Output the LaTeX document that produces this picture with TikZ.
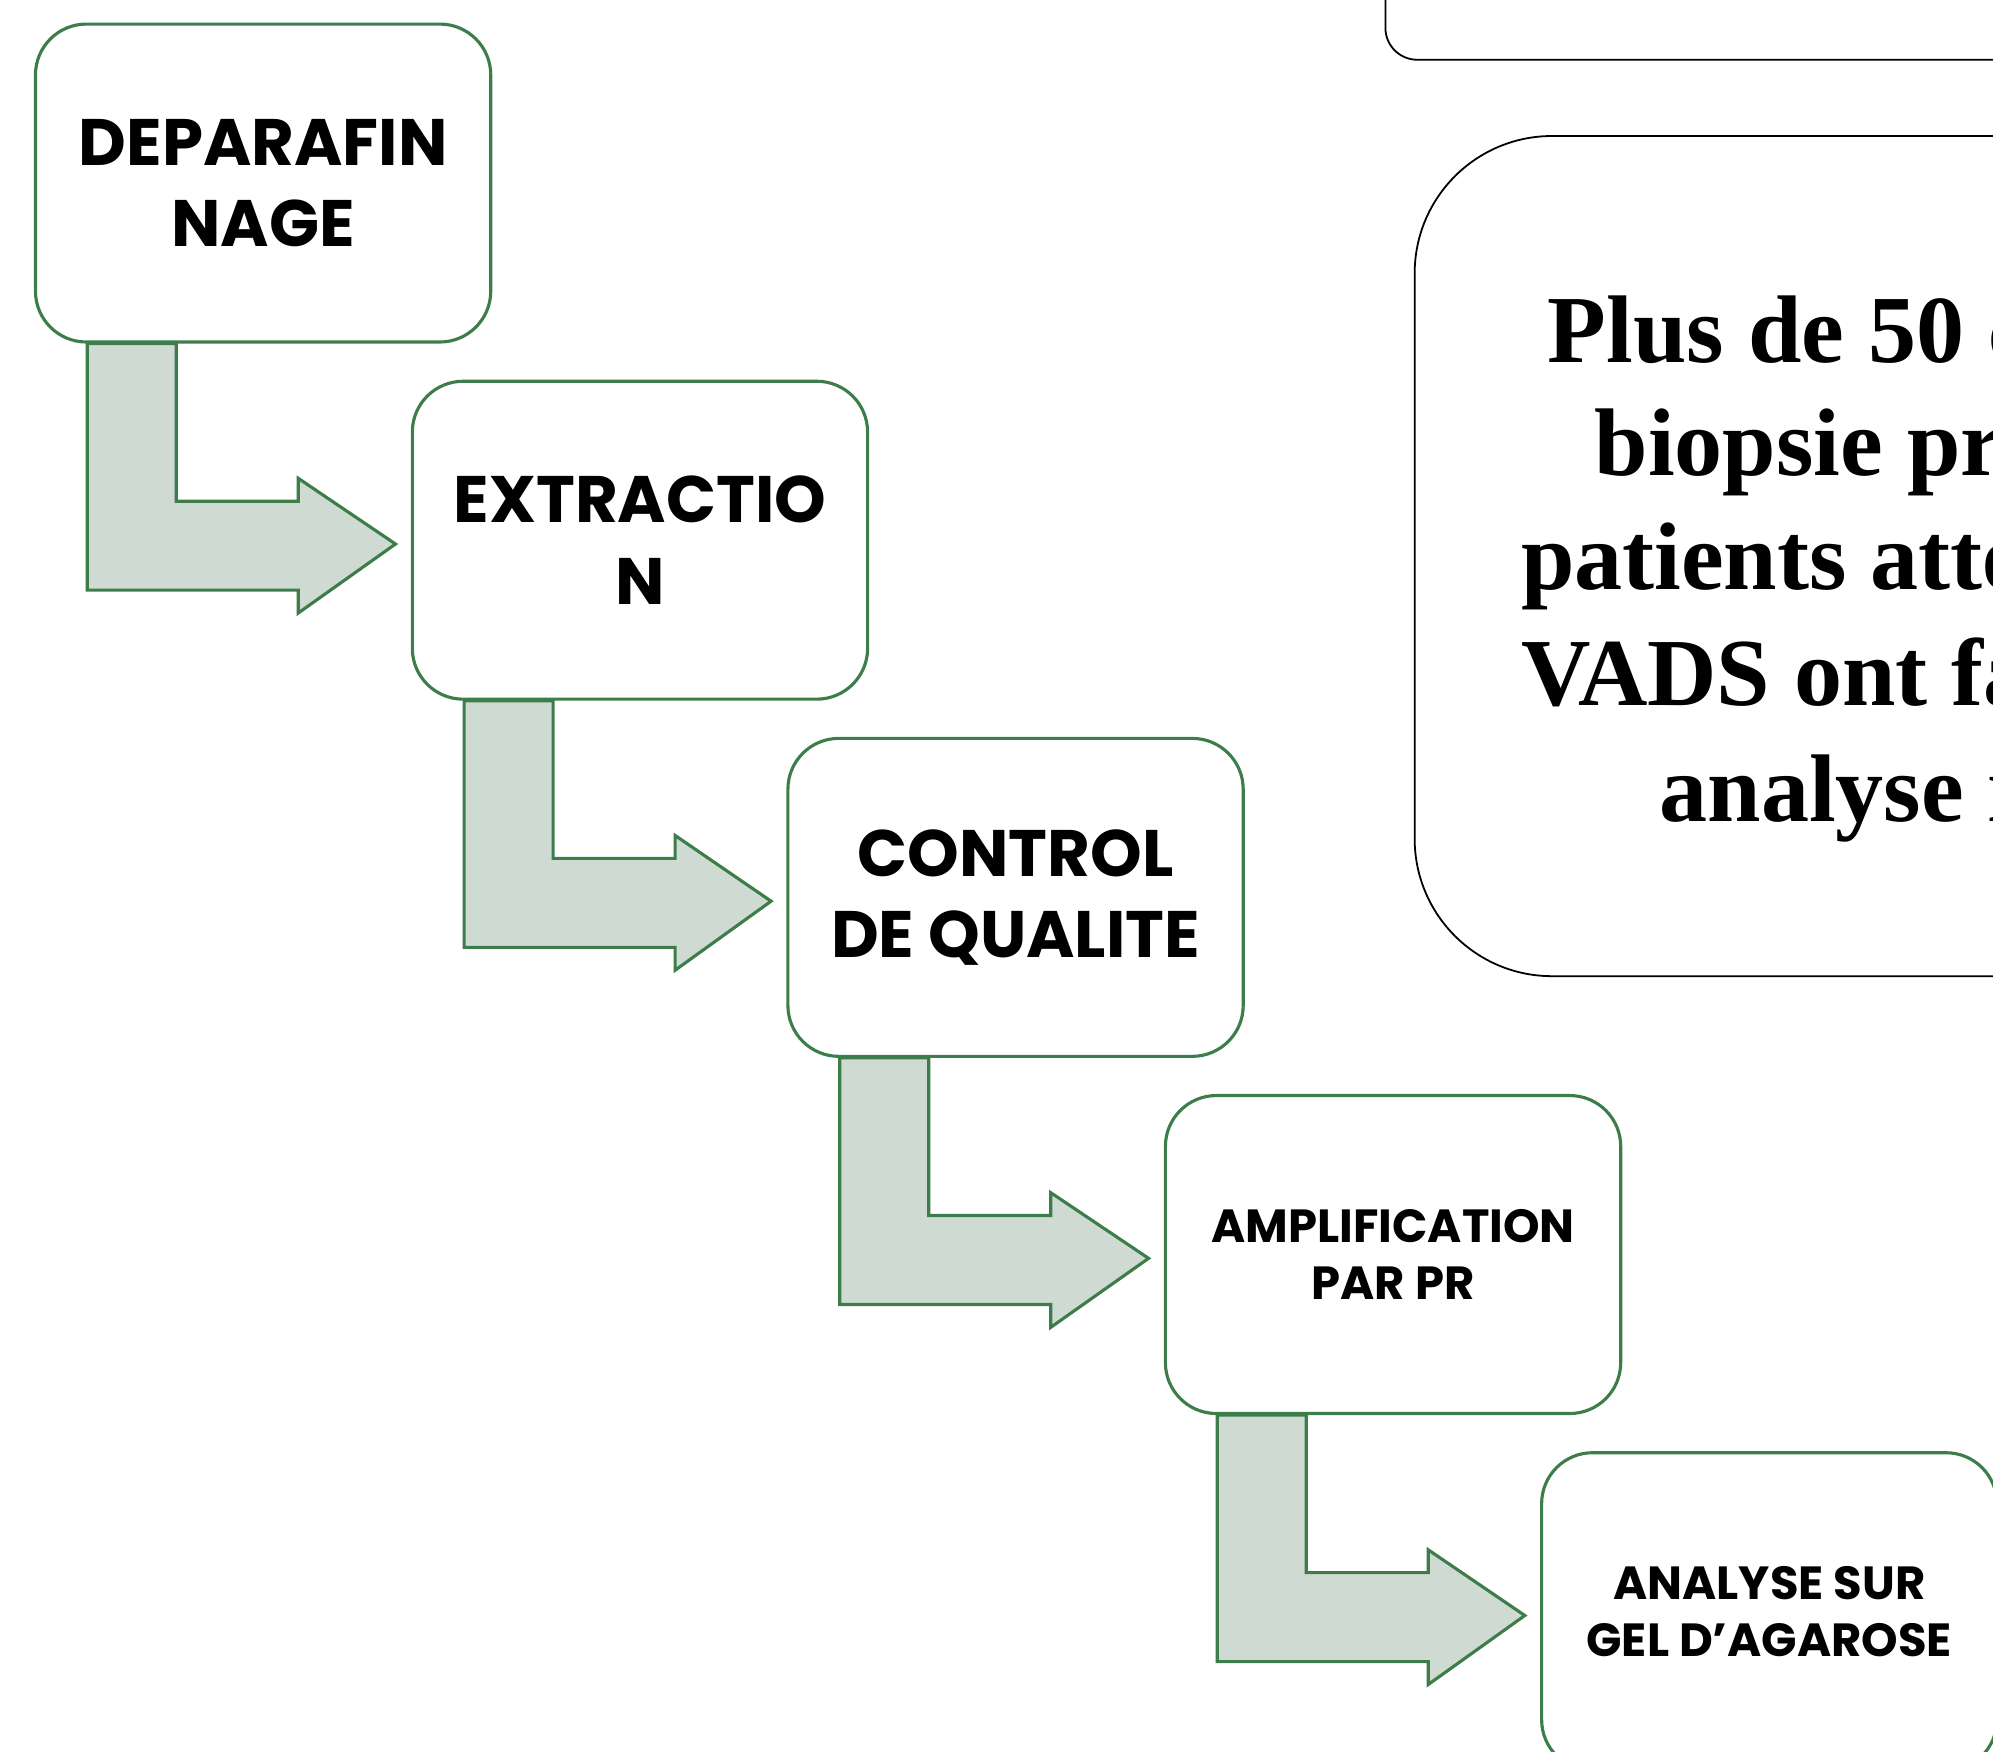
\documentclass[tikz,border=0pt]{standalone}
\usepackage{fontspec}
\setmainfont{Liberation Serif}
\newfontfamily\stepfont{Poppins}
\usepackage{xcolor}
\usetikzlibrary{calc}

\definecolor{stepgreen}{RGB}{60,125,74}
\definecolor{arrowfill}{RGB}{207,219,210}

\tikzset{
  stepbox/.style={draw=stepgreen, line width=0.7pt, fill=white, rounded corners=0.4cm,
    minimum width=3.58cm, minimum height=2.5cm, inner sep=0pt, align=center,
    font=\stepfont\bfseries\fontsize{14.7}{18.2}\selectfont},
  smallstep/.style={stepbox, font=\stepfont\bfseries\fontsize{10.4}{12.8}\selectfont},
  flowarrow/.style={draw=stepgreen, fill=arrowfill, line width=0.7pt, line join=miter},
  notebox/.style={draw=black, line width=0.4pt},
  noteline/.style={anchor=base west, inner sep=0pt, font=\bfseries\fontsize{21.5}{25.6}\selectfont}
}

\begin{document}
\begin{tikzpicture}[x=0.01cm, y=-0.01cm]

  % Page frame (shown picture is a crop)
  \useasboundingbox (0,0) rectangle (1568,1378);
  \clip (0,0) rectangle (1568,1378);

  % Steps of the protocol
  \node[stepbox]   (deparaf) at (207,144)   {DEPARAFIN\\NAGE};
  \node[stepbox]   (extract) at (503.5,425) {EXTRACTIO\\N};
  \node[stepbox]   (qualite) at (799,706)   {CONTROL\\DE QUALITE};
  \node[smallstep] (amplif)  at (1096,987)  {AMPLIFICATION\\PAR PR};
  \node[smallstep] (agarose) at (1392,1268) {ANALYSE SUR\\GEL D’AGAROSE};

  % Bent arrows between the steps
  \foreach \a/\b in {deparaf/extract, extract/qualite, qualite/amplif, amplif/agarose} {
    \begin{scope}[shift={(\a.south west)}]
      \draw[flowarrow] (42,0) -- (42,194) -- (208,194) -- (208,212)
        -- ($(\b.west)+(-12,3)$) -- (208,106) -- (208,124) -- (112,124) -- (112,0) -- cycle;
    \end{scope}
  }

  % Boxes on the right (cut by the frame)
  \draw[notebox, rounded corners=0.25cm] (1090,-200) rectangle (1800,47);
  \draw[notebox, rounded corners=1.08cm] (1113,107) rectangle (1900,768);

  % Text of the big box
  \node[noteline] (line1) at (1217,285) {Plus de 50 c};
  \node[noteline] (line2) at (1254,374) {biopsie pr};
  \node[noteline] (line3) at (1196,464) {patients atte};
  \node[noteline] (line4) at (1196,555) {VADS ont fa};
  \node[noteline] (line5) at (1305,646) {analyse m};

\end{tikzpicture}
\end{document}
